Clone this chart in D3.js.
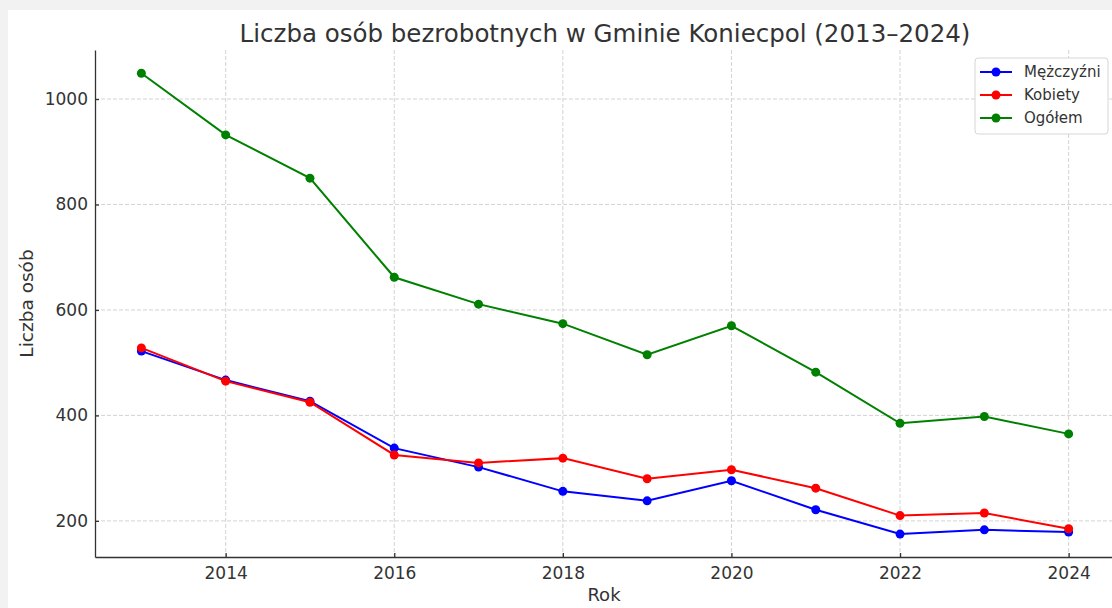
<!DOCTYPE html>
<html>
<head>
<meta charset="utf-8">
<script src="https://cdn.jsdelivr.net/npm/d3@7"></script>
<style>
  body { margin: 0; background: #f2f2f2; }
  svg { display: block; }
  text { font-family: "DejaVu Sans", sans-serif; fill: #333; }
</style>
</head>
<body>
<div id="chart"></div>
<script>
// dane
var years = [2013, 2014, 2015, 2016, 2017, 2018, 2019, 2020, 2021, 2022, 2023, 2024];
var men = [522, 467, 427, 338, 302, 256, 238, 276, 221, 175, 183, 179];
var women = [528, 465, 425, 325, 310, 319, 280, 297, 262, 210, 215, 185];
var total = [1049, 932, 850, 662, 611, 574, 515, 570, 482, 385, 398, 365];
var seriesNames = ["Mężczyźni", "Kobiety", "Ogółem"];
var seriesColors = ["#0000ff", "#ff0000", "#008000"];
var xTicks = [2014, 2016, 2018, 2020, 2022, 2024];
var yTicks = [200, 400, 600, 800, 1000];

var width = 1112, height = 608;
var margin = {top: 50, right: -3, bottom: 51, left: 95};

var svg = d3.select("#chart").append("svg")
  .attr("width", width)
  .attr("height", height);

svg.append("rect")
  .attr("x", 8).attr("y", 10)
  .attr("width", width - 8).attr("height", height - 10)
  .attr("fill", "#fff");

var x = d3.scaleLinear()
  .domain([2012.45, 2024.55])
  .range([margin.left, width - margin.right]);

var y = d3.scaleLinear()
  .domain([131.5, 1093])
  .range([height - margin.bottom, margin.top]);

// siatka
svg.append("g").selectAll("line")
  .data(xTicks)
  .enter().append("line")
    .attr("x1", function(d) { return x(d); })
    .attr("x2", function(d) { return x(d); })
    .attr("y1", margin.top)
    .attr("y2", height - margin.bottom)
    .attr("stroke", "#c8c8c8")
    .attr("stroke-width", 0.8)
    .attr("stroke-dasharray", "4,2");

svg.append("g").selectAll("line")
  .data(yTicks)
  .enter().append("line")
    .attr("x1", margin.left)
    .attr("x2", width)
    .attr("y1", function(d) { return y(d); })
    .attr("y2", function(d) { return y(d); })
    .attr("stroke", "#c8c8c8")
    .attr("stroke-width", 0.8)
    .attr("stroke-dasharray", "4,2");

// osie
var xAxis = svg.append("g")
  .attr("transform", "translate(0," + (height - margin.bottom) + ")")
  .call(d3.axisBottom(x).tickValues(xTicks).tickFormat(d3.format("d")).tickSizeInner(-4).tickSizeOuter(0).tickPadding(10));

var yAxis = svg.append("g")
  .attr("transform", "translate(" + margin.left + ",0)")
  .call(d3.axisLeft(y).tickValues(yTicks).tickFormat(d3.format("d")).tickSizeInner(-4).tickSizeOuter(0).tickPadding(7));

[xAxis, yAxis].forEach(function(a) {
  a.select(".domain").attr("stroke", "#333").attr("stroke-width", 1.3);
  a.selectAll(".tick line").attr("stroke", "#333").attr("stroke-width", 1.3);
  a.selectAll(".tick text").style("font-size", "17px").attr("fill", "#333");
});

// linie
var allSeries = [men, women, total];
var line = d3.line()
  .x(function(d, i) { return x(years[i]); })
  .y(function(d) { return y(d); });

allSeries.forEach(function(vals, k) {
  svg.append("path")
    .datum(vals)
    .attr("fill", "none")
    .attr("stroke", seriesColors[k])
    .attr("stroke-width", 2)
    .attr("d", line);

  svg.append("g").selectAll("circle")
    .data(vals)
    .enter().append("circle")
      .attr("cx", function(d, i) { return x(years[i]); })
      .attr("cy", function(d) { return y(d); })
      .attr("r", 4.5)
      .attr("fill", seriesColors[k]);
});

// tytuły
svg.append("text")
  .attr("x", 605).attr("y", 42)
  .attr("text-anchor", "middle")
  .style("font-size", "24.5px")
  .text("Liczba osób bezrobotnych w Gminie Koniecpol (2013–2024)");

svg.append("text")
  .attr("x", 604).attr("y", 601)
  .attr("text-anchor", "middle")
  .style("font-size", "18px")
  .text("Rok");

svg.append("text")
  .attr("transform", "translate(33," + ((margin.top + height - margin.bottom) / 2) + ") rotate(-90)")
  .attr("text-anchor", "middle")
  .style("font-size", "18.5px")
  .text("Liczba osób");

// legenda
var legend = svg.append("g").attr("transform", "translate(975,58)");
legend.append("rect")
  .attr("width", 133).attr("height", 76)
  .attr("rx", 3)
  .attr("fill", "#fff")
  .attr("stroke", "#d6d6d6");

seriesNames.forEach(function(name, k) {
  var ly = 14 + k * 23;
  legend.append("line")
    .attr("x1", 5).attr("x2", 37)
    .attr("y1", ly).attr("y2", ly)
    .attr("stroke", seriesColors[k]).attr("stroke-width", 2);
  legend.append("circle")
    .attr("cx", 21).attr("cy", ly).attr("r", 4.5)
    .attr("fill", seriesColors[k]);
  legend.append("text")
    .attr("x", 49).attr("y", ly + 5)
    .style("font-size", "15px")
    .text(name);
});
</script>
</body>
</html>
